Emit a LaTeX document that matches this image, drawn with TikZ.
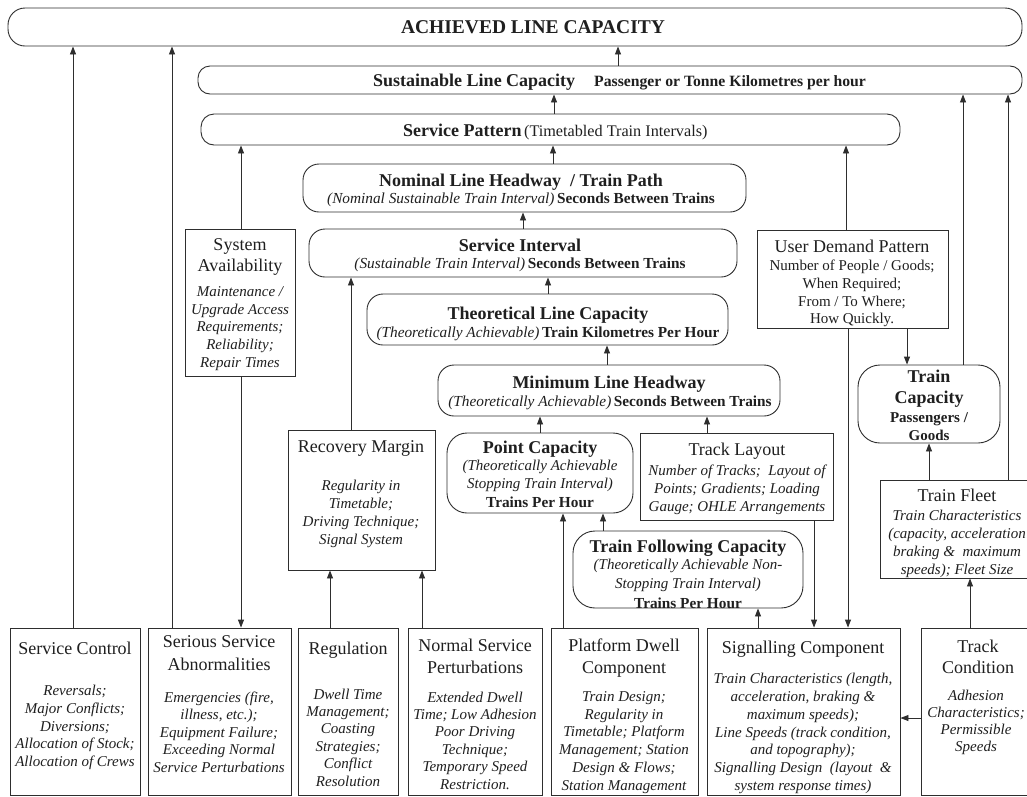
\documentclass[tikz,border=0pt]{standalone}
\usepackage{fontspec}
\setmainfont{Liberation Serif}
\usetikzlibrary{arrows.meta}
\newcommand\qA{\fontsize{19.5}{22}\selectfont\bfseries}
\newcommand\qT{\fontsize{18}{21}\selectfont\bfseries}
\newcommand\qR{\fontsize{18}{21}\selectfont}
\newcommand\qI{\fontsize{15.3}{17.7}\selectfont\itshape}
\newcommand\qN{\fontsize{15}{17.7}\selectfont}
\newcommand\qB{\fontsize{15.3}{17.7}\selectfont\bfseries}
\newcommand\mybox[6]{\node[#6, minimum width={(#4-#2)*1pt}, minimum height={(#5-#3)*1pt}] (#1) at ({(#2+#4)/2},{(#3+#5)/2}) {};}
\begin{document}
\begin{tikzpicture}[x=1pt,y=-1pt,
  ln/.style={draw=black!82, line width=0.9pt},
  box/.style={ln, fill=white, inner sep=0pt},
  rbox/.style={box, rounded corners=#1},
  arr/.style={ln, -{Triangle[length=8pt,width=6pt]}},
  txt/.style={inner sep=0pt, align=center, text=black!88}]
\useasboundingbox (0,0) rectangle (1027,796);
\clip (0,0) rectangle (1027,796);
\fill[white] (0,0) rectangle (1027,796);
% ---------- boxes
\mybox{ach}{8}{8}{1022}{46}{rbox=17pt}
\mybox{sus}{198}{66}{1022}{94}{rbox=12pt}
\mybox{sp}{201}{114}{900}{145}{rbox=13pt}
\mybox{nom}{303}{164}{746}{212}{rbox=16pt}
\mybox{si}{309}{229}{737}{277}{rbox=16pt}
\mybox{tlc}{367}{294}{728}{345}{rbox=16pt}
\mybox{mlh}{438}{365}{780}{416}{rbox=16pt}
\mybox{pc}{447}{433}{633}{513}{rbox=20pt}
\mybox{tl}{640}{433}{833}{520}{box}
\mybox{tfc}{573}{531}{803}{608}{rbox=22pt}
\mybox{rm}{288}{430}{435}{570}{box}
\mybox{sa}{185}{229}{295}{376}{box}
\mybox{udp}{757}{230}{948}{328}{box}
\mybox{tc}{858}{365}{1000}{443}{rbox=22pt}
\mybox{tf}{880}{480}{1035}{578}{box}
\mybox{svc}{10}{628}{140}{795}{box}
\mybox{ssa}{148}{628}{291}{795}{box}
\mybox{reg}{298}{628}{398}{795}{box}
\mybox{nsp}{408}{628}{542}{795}{box}
\mybox{pdc}{551}{628}{698}{795}{box}
\mybox{sig}{707}{628}{900}{795}{box}
\mybox{tco}{921}{628}{1035}{795}{box}
% ---------- texts
\node[txt, font=\qA] (achT) at (533,27) {ACHIEVED LINE CAPACITY};
\node[txt, anchor=base west] (susT) at (373,86) {{\qT Sustainable Line Capacity}\hspace{19pt}{\fontsize{15.7}{18}\selectfont\bfseries Passenger or Tonne Kilometres per hour}};
\node[txt, anchor=base west] (spT) at (403,136) {{\qT Service Pattern} {\fontsize{16.2}{18}\selectfont (Timetabled Train Intervals)}};
\node[txt, anchor=base, font=\qT] (nomT) at (521,186) {Nominal Line Headway \ / Train Path};
\node[txt, anchor=base] (nomS) at (521,203) {{\qI (Nominal Sustainable Train Interval)} {\qB Seconds Between Trains}};
\node[txt, anchor=base, font=\qT] (siT) at (520,251) {Service Interval};
\node[txt, anchor=base] (siS) at (520,268) {{\qI (Sustainable Train Interval)} {\qB Seconds Between Trains}};
\node[txt, anchor=base, font=\qT] (tlcT) at (548,319) {Theoretical Line Capacity};
\node[txt, anchor=base] (tlcS) at (548,337) {{\qI (Theoretically Achievable)} {\qB Train Kilometres Per Hour}};
\node[txt, anchor=base, font=\qT] (mlhT) at (609,388) {Minimum Line Headway};
\node[txt, anchor=base] (mlhS) at (610,406) {{\qI (Theoretically Achievable)} {\qB Seconds Between Trains}};
\node[txt, anchor=base, font=\qT] (pcT) at (540,453) {Point Capacity};
\node[txt, font={\fontsize{15}{18}\selectfont\itshape}] (pcB) at (540,476) {(Theoretically Achievable\\Stopping Train Interval)};
\node[txt, anchor=base, font=\qB] (pcU) at (540,507) {Trains Per Hour};
\node[txt, anchor=base, font=\qR] (tlT) at (737,455) {Track Layout};
\node[txt, font={\fontsize{15}{18}\selectfont\itshape}] (tlB) at (737,490) {Number of Tracks; \ Layout of\\Points; Gradients; Loading\\Gauge; OHLE Arrangements};
\node[txt, anchor=base, font=\qT] (tfcT) at (688,552) {Train Following Capacity};
\node[txt, font={\fontsize{15}{19}\selectfont\itshape}] (tfcB) at (688,575.5) {(Theoretically Achievable Non-\\Stopping Train Interval)};
\node[txt, anchor=base, font=\qB] (tfcU) at (688,608) {Trains Per Hour};
\node[txt, anchor=base, font=\qR] (rmT) at (361,452) {Recovery Margin};
\node[txt, font={\fontsize{15}{18}\selectfont\itshape}] (rmB) at (361,514) {Regularity in\\Timetable;\\Driving Technique;\\Signal System};
\node[txt, font=\qR] (saT) at (240,257) {System\\Availability};
\node[txt, font={\fontsize{15}{17.75}\selectfont\itshape}] (saB) at (240,328.5) {Maintenance /\\Upgrade Access\\Requirements;\\Reliability;\\Repair Times};
\node[txt, anchor=base, font=\qR] (udpT) at (852,252) {User Demand Pattern};
\node[txt, font=\qN] (udpB) at (852,293.5) {Number of People / Goods;\\When Required;\\From / To Where;\\How Quickly.};
\node[txt, font=\qT] (tcT) at (929,388.5) {Train\\Capacity};
\node[txt, font={\fontsize{15}{18}\selectfont\bfseries}] (tcB) at (929,427) {Passengers /\\Goods};
\node[txt, anchor=base, font=\qR] (tfT) at (957,501) {Train Fleet};
\node[txt, font={\fontsize{15}{18}\selectfont\itshape}] (tfB) at (957,544) {Train Characteristics\\(capacity, acceleration\\braking \& \ maximum\\speeds); Fleet Size};
\node[txt, anchor=base, font=\qR] (svcT) at (75,654) {Service Control};
\node[txt, font={\fontsize{15}{17.75}\selectfont\itshape}] (svcB) at (75,727.5) {Reversals;\\Major Conflicts;\\Diversions;\\Allocation of Stock;\\Allocation of Crews};
\node[txt, font={\fontsize{18}{23}\selectfont}] (ssaT) at (219,653.5) {Serious Service\\Abnormalities};
\node[txt, font={\fontsize{15}{17.5}\selectfont\itshape}] (ssaB) at (219,732) {Emergencies (fire,\\illness, etc.);\\Equipment Failure;\\Exceeding Normal\\Service Perturbations};
\node[txt, anchor=base, font=\qR] (regT) at (348,654) {Regulation};
\node[txt, font={\fontsize{15}{17.4}\selectfont\itshape}] (regB) at (348,737.5) {Dwell Time\\Management;\\Coasting\\Strategies;\\Conflict\\Resolution};
\node[txt, font={\fontsize{18}{22}\selectfont}] (nspT) at (475,656) {Normal Service\\Perturbations};
\node[txt, font={\fontsize{15}{17.4}\selectfont\itshape}] (nspB) at (475,740.5) {Extended Dwell\\Time; Low Adhesion\\Poor Driving\\Technique;\\Temporary Speed\\Restriction.};
\node[txt, font={\fontsize{18}{22}\selectfont}] (pdcT) at (624,658) {Platform Dwell\\Component};
\node[txt, font={\fontsize{15}{17.8}\selectfont\itshape}] (pdcB) at (624,742.5) {Train Design;\\Regularity in\\Timetable; Platform\\Management; Station\\Design \& Flows;\\Station Management};
\node[txt, anchor=base, font=\qR] (sigT) at (803,653) {Signalling Component};
\node[txt, font={\fontsize{15}{17.8}\selectfont\itshape}] (sigB) at (803,733.5) {Train Characteristics (length,\\acceleration, braking \&\\maximum speeds);\\Line Speeds (track condition,\\and topography);\\Signalling Design \ (layout \ \&\\system response times)};
\node[txt, font={\fontsize{18}{21}\selectfont}] (tcoT) at (978,656.5) {Track\\Condition};
\node[txt, font={\fontsize{15}{17}\selectfont\itshape}] (tcoB) at (976,722.5) {Adhesion\\Characteristics;\\Permissible\\Speeds};
% ---------- connector x positions
\coordinate (c1) at (73,0);
\coordinate (c2) at (172,0);
\coordinate (c3) at (618,0);
\coordinate (c4) at (554,0);
\coordinate (c5) at (963,0);
\coordinate (c6) at (1008,0);
\coordinate (c7) at (241,0);
\coordinate (c8) at (553,0);
\coordinate (c9) at (846,0);
\coordinate (c10) at (523,0);
\coordinate (c11) at (548,0);
\coordinate (c12) at (351,0);
\coordinate (c13) at (607,0);
\coordinate (c14) at (540,0);
\coordinate (c15) at (707,0);
\coordinate (c16) at (330,0);
\coordinate (c17) at (422,0);
\coordinate (c18) at (563,0);
\coordinate (c19) at (603,0);
\coordinate (c20) at (758,0);
\coordinate (c21) at (814,0);
\coordinate (c22) at (848,0);
\coordinate (c23) at (907,0);
\coordinate (c24) at (929,0);
\coordinate (c25) at (970,0);
\coordinate (c26) at (0,718);
% ---------- connectors
\draw[arr] (svc.north -| c1) -- (ach.south -| c1);
\draw[arr] (ssa.north -| c2) -- (ach.south -| c2);
\draw[arr] (sus.north -| c3) -- (ach.south -| c3);
\draw[arr] (sp.north -| c4) -- (sus.south -| c4);
\draw[arr] (tc.north -| c5) -- (sus.south -| c5);
\draw[arr] (tf.north -| c6) -- (sus.south -| c6);
\draw[arr] (sa.north -| c7) -- (sp.south -| c7);
\draw[arr] (sa.south -| c7) -- (ssa.north -| c7);
\draw[arr] (nom.north -| c8) -- (sp.south -| c8);
\draw[arr] (udp.north -| c9) -- (sp.south -| c9);
\draw[arr] (si.north -| c10) -- (nom.south -| c10);
\draw[arr] (tlc.north -| c11) -- (si.south -| c11);
\draw[arr] (rm.north -| c12) -- (si.south -| c12);
\draw[arr] (mlh.north -| c13) -- (tlc.south -| c13);
\draw[arr] (pc.north -| c14) -- (mlh.south -| c14);
\draw[arr] (tl.north -| c15) -- (mlh.south -| c15);
\draw[arr] (reg.north -| c16) -- (rm.south -| c16);
\draw[arr] (nsp.north -| c17) -- (rm.south -| c17);
\draw[arr] (pdc.north -| c18) -- (pc.south -| c18);
\draw[arr] (tfc.north -| c19) -- (pc.south -| c19);
\draw[arr] (sig.north -| c20) -- (tfc.south -| c20);
\draw[arr] (tl.south -| c21) -- (sig.north -| c21);
\draw[arr] (udp.south -| c22) -- (sig.north -| c22);
\draw[arr] (udp.south -| c23) -- (tc.north -| c23);
\draw[arr] (tf.north -| c24) -- (tc.south -| c24);
\draw[arr] (tco.north -| c25) -- (tf.south -| c25);
\draw[arr] (tco.west |- c26) -- (sig.east |- c26);
\end{tikzpicture}
\end{document}
